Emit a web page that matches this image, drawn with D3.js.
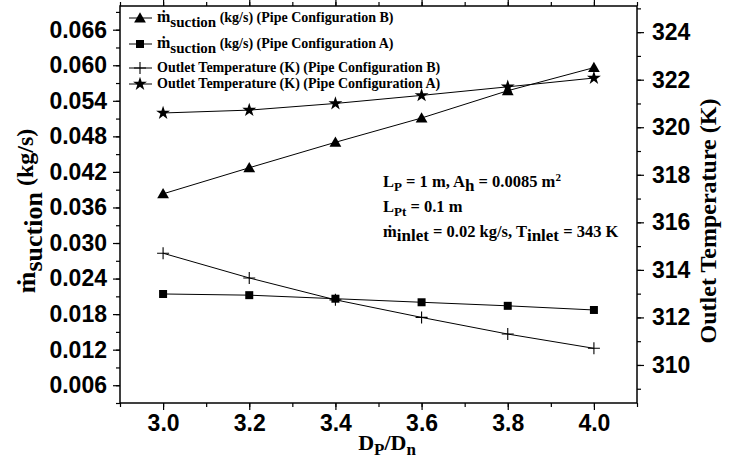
<!DOCTYPE html>
<html>
<head>
<meta charset="utf-8">
<script src="https://cdn.jsdelivr.net/npm/d3@7"></script>
<style>
  body { margin: 0; background: #fff; }
  svg { display: block; }
  .tick text { font-family: "Liberation Sans", Arial, sans-serif; font-weight: bold; font-size: 23px; fill: #000; }
  .ser { font-family: "Liberation Serif", "Times New Roman", serif; font-weight: bold; fill: #000; }
</style>
</head>
<body>
<svg id="chart"></svg>
<script>
// ratio Dp/Dn
const ratio = [3.0, 3.2, 3.4, 3.6, 3.8, 4.0];
// suction mass flow (kg/s)
const suctionB = [0.0383, 0.0427, 0.0470, 0.0511, 0.0557, 0.0596];
const suctionA = [0.0214, 0.0212, 0.0206, 0.0200, 0.0194, 0.0187];
// outlet temperature (K)
const tempB = [314.7, 313.66, 312.74, 312.0, 311.3, 310.7];
const tempA = [320.6, 320.72, 321.0, 321.34, 321.7, 322.07];

const leftTicks = [0.006, 0.012, 0.018, 0.024, 0.030, 0.036, 0.042, 0.048, 0.054, 0.060, 0.066];
const rightTicks = [310, 312, 314, 316, 318, 320, 322, 324];
const xTicks = [3.0, 3.2, 3.4, 3.6, 3.8, 4.0];

const width = 733, height = 464;
const svg = d3.select('svg#chart').attr('width', width).attr('height', height);

const pLeft = 120, pRight = 637, pTop = 6, pBottom = 403;

const x = d3.scaleLinear().domain([2.9, 4.1]).range([pLeft, pRight]);
const yL = d3.scaleLinear().domain([0.003, 0.070]).range([pBottom, pTop]);
const yR = d3.scaleLinear().domain([308.4, 325.1]).range([pBottom, pTop]);

// minor ticks
const xMinor = d3.range(29, 42).map(v => v / 10);
const lMinor = d3.range(1, 24).map(v => v * 0.003);
const rMinor = d3.range(309, 326);

function minorAxis(axis, vals) {
    return axis.tickValues(vals).tickSize(4).tickFormat('');
}

svg.append('g').attr('transform', `translate(0,${pBottom})`).call(minorAxis(d3.axisBottom(x), xMinor));
svg.append('g').attr('transform', `translate(0,${pTop})`).call(minorAxis(d3.axisTop(x), xMinor));
svg.append('g').attr('transform', `translate(${pLeft},0)`).call(minorAxis(d3.axisLeft(yL), lMinor));
svg.append('g').attr('transform', `translate(${pRight},0)`).call(minorAxis(d3.axisRight(yR), rMinor));

// major axes
svg.append('g').attr('transform', `translate(0,${pBottom})`)
    .call(d3.axisBottom(x).tickValues(xTicks).tickSize(7).tickPadding(5).tickFormat(d3.format('.1f')));
svg.append('g').attr('transform', `translate(0,${pTop})`)
    .call(d3.axisTop(x).tickValues(xTicks).tickSize(7).tickFormat(''));
svg.append('g').attr('transform', `translate(${pLeft},0)`)
    .call(d3.axisLeft(yL).tickValues(leftTicks).tickSize(7).tickPadding(6).tickFormat(d3.format('.3f')));
svg.append('g').attr('transform', `translate(${pRight},0)`)
    .call(d3.axisRight(yR).tickValues(rightTicks).tickSize(7).tickPadding(8).tickFormat(d3.format('d')));

svg.selectAll('.domain').remove();
svg.selectAll('.tick line').attr('stroke', '#000').attr('stroke-width', 1.2);

// frame
svg.append('rect')
    .attr('x', pLeft).attr('y', pTop)
    .attr('width', pRight - pLeft).attr('height', pBottom - pTop)
    .attr('fill', 'none').attr('stroke', '#000').attr('stroke-width', 1.5);

// series lines
function drawLine(xs, ys, yScale) {
    const pts = xs.map((v, i) => [x(v), yScale(ys[i])]);
    svg.append('path')
        .attr('d', d3.line()(pts))
        .attr('fill', 'none').attr('stroke', '#000').attr('stroke-width', 1);
    return pts;
}

const ptsB = drawLine(ratio, suctionB, yL);
const ptsA = drawLine(ratio, suctionA, yL);
const ptsTB = drawLine(ratio, tempB, yR);
const ptsTA = drawLine(ratio, tempA, yR);

const symTri = d3.symbol().type(d3.symbolTriangle).size(60);
const symSq = d3.symbol().type(d3.symbolSquare).size(64);
const symStar = d3.symbol().type(d3.symbolStar).size(60);

function drawMarkers(pts, kind) {
    pts.forEach(p => {
        if (kind === 'plus') {
            svg.append('path')
                .attr('d', `M${p[0] - 6},${p[1]}H${p[0] + 6}M${p[0]},${p[1] - 6}V${p[1] + 6}`)
                .attr('stroke', '#000').attr('stroke-width', 1.1).attr('fill', 'none');
        } else {
            const gen = kind === 'tri' ? symTri : kind === 'sq' ? symSq : symStar;
            svg.append('path')
                .attr('d', gen())
                .attr('transform', `translate(${p[0]},${p[1] + (kind === 'tri' ? 1 : 0)})`)
                .attr('fill', '#000');
        }
    });
}

drawMarkers(ptsB, 'tri');
drawMarkers(ptsA, 'sq');
drawMarkers(ptsTB, 'plus');
drawMarkers(ptsTA, 'star');

// legend
const legendRows = [
    {y: 18, kind: 'tri', sub: true, label: ' (kg/s) (Pipe Configuration B)'},
    {y: 44, kind: 'sq', sub: true, label: ' (kg/s) (Pipe Configuration A)'},
    {y: 68, kind: 'plus', sub: false, label: 'Outlet Temperature (K) (Pipe Configuration B)'},
    {y: 84, kind: 'star', sub: false, label: 'Outlet Temperature (K) (Pipe Configuration A)'}
];

legendRows.forEach(r => {
    svg.append('line')
        .attr('x1', 129).attr('x2', 152).attr('y1', r.y).attr('y2', r.y)
        .attr('stroke', '#000').attr('stroke-width', 1);
    drawMarkers([[140, r.y]], r.kind);
    const t = svg.append('text').attr('class', 'ser')
        .attr('x', 157).attr('y', r.y + 4).style('font-size', '14px');
    if (r.sub) {
        t.append('tspan').text('ṁ').style('font-size', '16px');
        t.append('tspan').text('suction').attr('dy', 5).style('font-size', '15px');
        t.append('tspan').text(r.label).attr('dy', -5);
    } else {
        t.text(r.label);
    }
});

// annotation
const note = svg.append('g').attr('class', 'ser').style('font-size', '16.5px');
let t1 = note.append('text').attr('x', 383).attr('y', 187);
t1.append('tspan').text('L');
t1.append('tspan').text('P').attr('dy', 4).style('font-size', '13px');
t1.append('tspan').text(' = 1 m, A').attr('dy', -4);
t1.append('tspan').text('h').attr('dy', 4).style('font-size', '17px');
t1.append('tspan').text(' = 0.0085 m').attr('dy', -4);
t1.append('tspan').text('2').attr('dy', -6).style('font-size', '11px');

let t2 = note.append('text').attr('x', 383).attr('y', 212);
t2.append('tspan').text('L');
t2.append('tspan').text('Pt').attr('dy', 4).style('font-size', '13px');
t2.append('tspan').text(' = 0.1 m').attr('dy', -4);

let t3 = note.append('text').attr('x', 383).attr('y', 237);
t3.append('tspan').text('ṁ');
t3.append('tspan').text('inlet').attr('dy', 4).style('font-size', '17px');
t3.append('tspan').text(' = 0.02 kg/s, T').attr('dy', -4);
t3.append('tspan').text('inlet').attr('dy', 4).style('font-size', '17px');
t3.append('tspan').text(' = 343 K').attr('dy', -4);

// axis titles
const xl = svg.append('text').attr('class', 'ser')
    .attr('x', 387).attr('y', 450).attr('text-anchor', 'middle').style('font-size', '22px');
xl.append('tspan').text('D');
xl.append('tspan').text('P').attr('dy', 5).style('font-size', '17px');
xl.append('tspan').text('/D').attr('dy', -5);
xl.append('tspan').text('n').attr('dy', 5).style('font-size', '17px');

const yl = svg.append('text').attr('class', 'ser')
    .attr('transform', 'translate(35,211) rotate(-90)')
    .attr('text-anchor', 'middle').style('font-size', '25px');
yl.append('tspan').text('ṁ').style('font-size', '26px');
yl.append('tspan').text('suction').attr('dy', 7).style('font-size', '26px');
yl.append('tspan').text(' (kg/s)').attr('dy', -9).style('font-size', '24px');

svg.append('text').attr('class', 'ser')
    .attr('transform', 'translate(716,221) rotate(-90)')
    .attr('text-anchor', 'middle').style('font-size', '24px')
    .text('Outlet Temperature (K)');
</script>
</body>
</html>
